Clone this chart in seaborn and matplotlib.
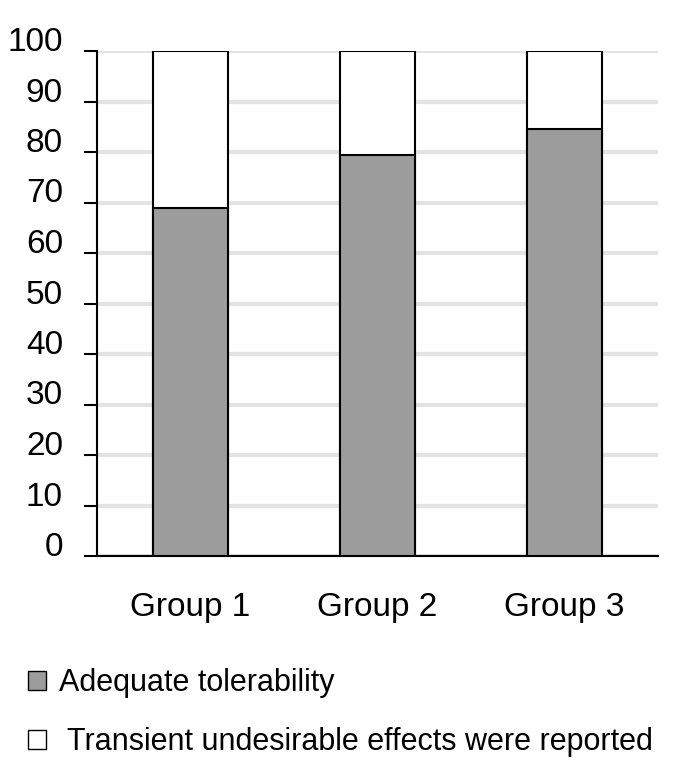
import matplotlib
matplotlib.use("Agg")
import matplotlib.pyplot as plt
import matplotlib.transforms as mtransforms
from matplotlib.patches import Patch
import seaborn as sns
import pandas as pd

groups = ["Group 1", "Group 2", "Group 3"]
adequate = [69.0, 79.5, 84.5]
transient = [31.0, 20.5, 15.5]
legend_labels = ["Adequate tolerability", " Transient undesirable effects were reported"]
yticks = [0, 10, 20, 30, 40, 50, 60, 70, 80, 90, 100]

sns.set_theme(style="white")
plt.rcParams["font.family"] = ["Liberation Sans Narrow", "Liberation Sans", "DejaVu Sans"]
plt.rcParams["text.color"] = "black"
plt.rcParams["xtick.color"] = "black"
plt.rcParams["ytick.color"] = "black"
plt.rcParams["axes.labelcolor"] = "black"

df = pd.DataFrame({"group": groups, "adequate": adequate, "transient": transient})
df["total"] = df["adequate"] + df["transient"]

fig = plt.figure(figsize=(6.87, 7.71), dpi=100)
ax = fig.add_axes([97/687, 1-556/771, (658-97)/687, (556-51)/771])

grey = "#9c9c9c"
sns.barplot(data=df, x="group", y="total", color="white", edgecolor="black",
            linewidth=1.5, width=0.4, saturation=1, ax=ax, zorder=3)
sns.barplot(data=df, x="group", y="adequate", color=grey, edgecolor="black",
            linewidth=1.5, width=0.4, saturation=1, ax=ax, zorder=3)

ax.set_ylim(0, 100)
ax.set_xlim(-0.5, 2.5)
ax.set_yticks(yticks)
ax.set_xlabel("")
ax.set_ylabel("")
ax.yaxis.grid(True, color="#e3e3e3", linewidth=3, zorder=0)
ax.set_axisbelow(True)
for s in ["top", "right"]:
    ax.spines[s].set_visible(False)
for s in ["left", "bottom"]:
    ax.spines[s].set_color("black")
    ax.spines[s].set_linewidth(1.5)

ax.tick_params(axis="y", direction="out", length=9.5, width=1.5, color="black",
               labelsize=24, pad=15, left=True, labelcolor="black")
ax.tick_params(axis="x", length=0, labelsize=24, pad=26, labelcolor="black")
offset = mtransforms.ScaledTranslation(0, 12/100, fig.dpi_scale_trans)
for lab in ax.get_yticklabels():
    lab.set_transform(lab.get_transform() + offset)

handles = [Patch(facecolor=grey, edgecolor="black", linewidth=1),
           Patch(facecolor="white", edgecolor="black", linewidth=1)]
fig.legend(handles, legend_labels, loc="upper left",
           bbox_to_anchor=(28/687, 1-668/771), frameon=False, fontsize=22,
           handlelength=0.6, handleheight=0.6, handletextpad=0.4,
           labelspacing=0.95, borderpad=0, borderaxespad=0)

fig.savefig("out.png", dpi=100)
